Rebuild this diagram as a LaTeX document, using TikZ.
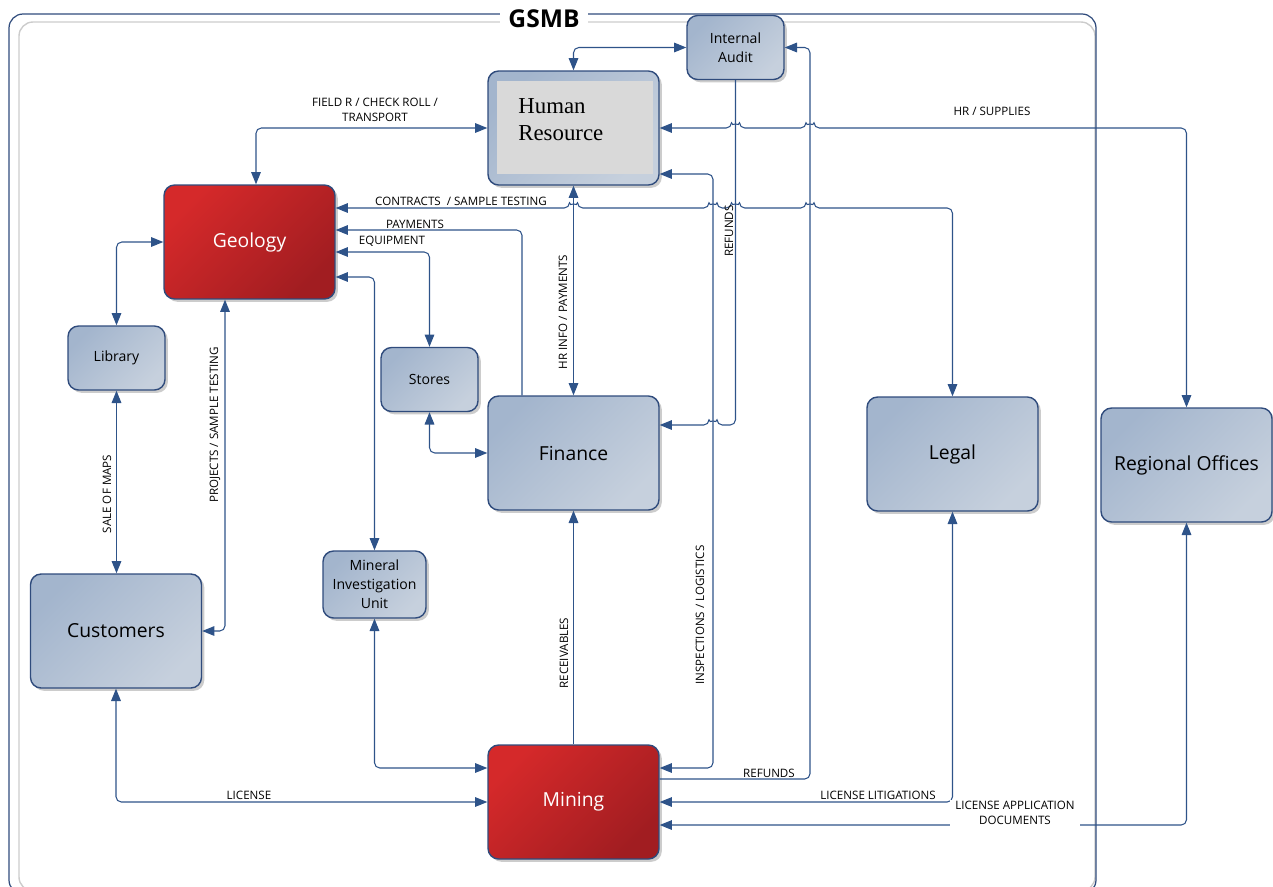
\documentclass[tikz,border=0pt]{standalone}
\usepackage{fontspec}
\setmainfont{Open Sans}
\newfontfamily\hrfont{Liberation Serif}
\usetikzlibrary{arrows.meta,shadows,calc}

\definecolor{edgeblue}{HTML}{2F4B7C}
\definecolor{linkblue}{HTML}{2E5389}
\definecolor{boxtl}{HTML}{A3B5CD}
\definecolor{boxbr}{HTML}{C6D0DD}
\definecolor{redtl}{HTML}{D5292A}
\definecolor{redbr}{HTML}{A11D21}
\definecolor{hrgray}{HTML}{D9D9D9}
\definecolor{framegray}{HTML}{CCCCCC}

\newcommand{\hopr}[2]{-- (#1-4,#2) arc[start angle=180,end angle=0,radius=0.08cm]}
\newcommand{\hopl}[2]{-- (#1+4,#2) arc[start angle=0,end angle=180,radius=0.08cm]}

\tikzset{
  deptbox/.style={draw=edgeblue, line width=0.8pt, rounded corners=6pt,
    top color=boxtl, bottom color=boxbr, shading angle=45,
    drop shadow={shadow xshift=1.6pt, shadow yshift=-1.6pt, fill=black!20, opacity=1},
    minimum width=3.42cm, minimum height=2.28cm, inner sep=1pt, align=center,
    font=\fontsize{11}{13}\selectfont},
  smallbox/.style={deptbox, minimum width=1.94cm, minimum height=1.28cm,
    font=\fontsize{8}{10.8}\selectfont},
  redbox/.style={deptbox, top color=redtl, bottom color=redbr, shading angle=45, text=white},
  flowline/.style={draw=linkblue, line width=0.6pt, rounded corners=3pt,
    >={Triangle[length=7pt,width=5.5pt]}},
  flowtext/.style={font=\fontsize{6.6}{8.5}\selectfont, inner sep=1pt, align=center}
}

\begin{document}
\begin{tikzpicture}[x=0.02cm,y=-0.02cm]
\useasboundingbox (0,0) rectangle (1273,886);
\clip (0,0) rectangle (1273,886);

\draw[framegray, line width=0.8pt, rounded corners=8pt] (19,22) rectangle (1095,891);
\draw[edgeblue, line width=0.7pt, rounded corners=8pt] (9,14) rectangle (1096,894);
\node[fill=white, inner sep=0pt, minimum width=1.76cm, minimum height=0.44cm,
  font=\bfseries\fontsize{14}{16}\selectfont] (gsmb) at (544,19) {GSMB};

\node[smallbox] (ia) at (735.5,47.5) {Internal\\Audit};
\node[deptbox, path picture={\fill[hrgray, sharp corners]
    ($(path picture bounding box.north west)+(9,10)$) rectangle
    ($(path picture bounding box.south east)+(-6,-11)$);}] (hr) at (573.5,128) {};
\node[font=\hrfont\fontsize{13}{15.3}\selectfont, align=left, anchor=north west,
  inner sep=0pt] (hrtext) at (518,98) {Human\\Resource};
\node[redbox] (geo) at (249.5,242) {Geology};
\node[smallbox] (lib) at (116.5,358) {Library};
\node[smallbox] (st) at (429.5,379.5) {Stores};
\node[deptbox] (fin) at (573.5,453) {Finance};
\node[smallbox, minimum width=2.06cm, minimum height=1.34cm] (miu) at (374.5,584.5) {Mineral\\Investigation\\Unit};
\node[deptbox] (cust) at (116,631) {Customers};
\node[redbox] (mining) at (573.5,802) {Mining};
\node[deptbox] (legal) at (952.5,454) {Legal};
\node[deptbox] (ro) at (1186.5,465) {Regional Offices};

\draw[flowline,<->] (ia.west) -| (hr.north);
\draw[flowline,<->] (geo.north -| 256,0) |- (hr.west);
\draw[flowline,<->] (hr.east) \hopr{735.5}{128} \hopr{810}{128} -| (ro.north);
\draw[flowline,<->] (hr.east |- 0,174) -| (713,768) -- (mining.east |- 0,768);
\draw[flowline,->] (ia.south) -- (735.5,425) \hopl{713}{425} -- (fin.east |- 0,425);
\draw[flowline,->] (mining.east |- 0,779) -- (810,779) -- (810,47.5) -- (ia.east);
\draw[flowline,<->] (geo.east |- 0,208) \hopr{573.5}{208} \hopr{713}{208} \hopr{735.5}{208} \hopr{810}{208} -| (legal.north);
\draw[flowline,<->] (hr.south) -- (fin.north);
\draw[flowline,->] (fin.north -| 522,0) |- (geo.east |- 0,230);
\draw[flowline,<->] (geo.east |- 0,252) -| (st.north);
\draw[flowline,<->] (geo.east |- 0,277) -| (miu.north);
\draw[flowline,<->] (st.south) |- (fin.west);
\draw[flowline,<->] (lib.north) |- (geo.west);
\draw[flowline,<->] (lib.south) -- (cust.north -| lib.south);
\draw[flowline,<->] (geo.south -| 225,0) |- (cust.east);
\draw[flowline,<->] (miu.south) |- (mining.west |- 0,768);
\draw[flowline,<->] (cust.south) |- (mining.west);
\draw[flowline,->] (mining.north) -- (fin.south);
\draw[flowline,<->] (mining.east) -| (legal.south);
\draw[flowline,<->] (mining.east |- 0,825) -| (ro.south);

\node[flowtext] (tfield) at (375,110) {FIELD R / CHECK ROLL /\\TRANSPORT};
\node[flowtext] (tsupplies) at (992,111) {HR / SUPPLIES};
\node[flowtext] (tcontracts) at (461,201) {CONTRACTS \ / SAMPLE TESTING};
\node[flowtext] (tpayments) at (415,224) {PAYMENTS};
\node[flowtext] (tequipment) at (392,241) {EQUIPMENT};
\node[flowtext, rotate=90] (thrinfo) at (563,312) {HR INFO / PAYMENTS};
\node[flowtext, rotate=90] (trefunds) at (729,231) {REFUNDS};
\node[flowtext, rotate=90] (tmaps) at (107,494) {SALE OF MAPS};
\node[flowtext, rotate=90] (tprojects) at (215,425) {PROJECTS / SAMPLE TESTING};
\node[flowtext, rotate=90] (tinspect) at (700,615) {INSPECTIONS / LOGISTICS};
\node[flowtext, rotate=90] (treceive) at (564,653) {RECEIVABLES};
\node[flowtext] (trefundsb) at (769,773) {REFUNDS};
\node[flowtext] (tlicense) at (249,795) {LICENSE};
\node[flowtext] (tlitig) at (878,795) {LICENSE LITIGATIONS};
\node[flowtext, fill=white, inner xsep=3pt] (tapply) at (1015,813) {LICENSE APPLICATION\\DOCUMENTS};
\end{tikzpicture}
\end{document}
